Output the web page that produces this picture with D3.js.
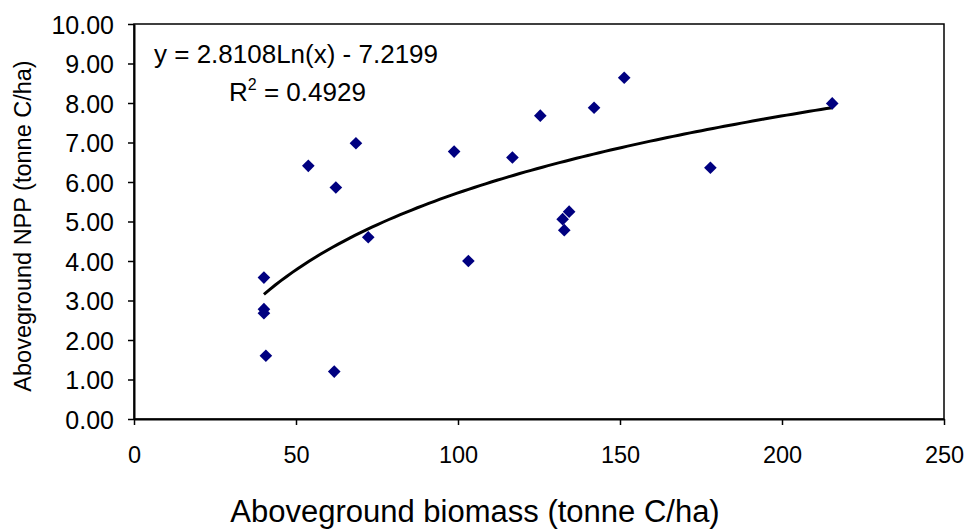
<!DOCTYPE html>
<html><head><meta charset="utf-8">
<script src="https://cdn.jsdelivr.net/npm/d3@7"></script>
<style>body{margin:0;background:#fff}svg{display:block}text{font-family:"Liberation Sans",Arial,sans-serif;fill:#000}</style>
</head><body><svg id="c" width="971" height="532"></svg>
<script>
const biomass = [40.1, 40.1, 40.1, 40.7, 53.8, 61.8, 62.3, 68.5, 72.3, 98.8, 103.2, 116.8, 125.4, 132.3, 132.8, 134.3, 142.0, 151.3, 177.9, 215.5];
const npp     = [3.58, 2.78, 2.68, 1.60, 6.41, 1.20, 5.86, 6.98, 4.60, 6.77, 4.00, 6.62, 7.68, 5.06, 4.78, 5.25, 7.88, 8.64, 6.36, 7.99];
const xTicks = [0, 50, 100, 150, 200, 250];
const yTicks = [0, 1, 2, 3, 4, 5, 6, 7, 8, 9, 10];
const trendA = 2.8108, trendB = -7.2199;
const eqText = "y = 2.8108Ln(x) - 7.2199";
const r2Value = "0.4929";

const svg = d3.select("#c");
const L = 134, R = 944, T = 24, B = 419;
const x = d3.scaleLinear().domain([0, 250]).range([L, R]);
const y = d3.scaleLinear().domain([0, 10]).range([B, T]);

// frame
svg.append("rect").attr("x", L).attr("y", T).attr("width", R - L).attr("height", B - T)
  .attr("fill", "none").attr("stroke", "#000").attr("stroke-width", 1.5);

const xa = svg.append("g").attr("transform", `translate(0,${B})`)
  .call(d3.axisBottom(x).tickValues(xTicks).tickFormat(d3.format("d")).tickSize(6).tickSizeOuter(0));
xa.select(".domain").attr("stroke-width", 2);
xa.selectAll("line").attr("stroke-width", 1.5);
xa.selectAll("text").attr("font-size", 23.5).attr("dy", 0).attr("y", 44).attr("fill", "#000");

const ya = svg.append("g").attr("transform", `translate(${L},0)`)
  .call(d3.axisLeft(y).tickValues(yTicks).tickFormat(d3.format(".2f")).tickSize(6).tickSizeOuter(0));
ya.select(".domain").attr("stroke-width", 2);
ya.selectAll("line").attr("stroke-width", 1.5);
ya.selectAll("text").attr("font-size", 25).attr("x", -20).attr("dy", "0.36em").attr("fill", "#000");

// trend line
const xmin = d3.min(biomass), xmax = d3.max(biomass);
const tr = d3.range(0, 101).map(i => xmin + (xmax - xmin) * i / 100);
svg.append("path").datum(tr)
  .attr("d", d3.line().x(d => x(d)).y(d => y(trendA * Math.log(d) + trendB)))
  .attr("fill", "none").attr("stroke", "#000").attr("stroke-width", 3);

// points
const sym = d3.symbol().type(d3.symbolSquare).size(80);
svg.append("g").selectAll("path").data(biomass.map((b, i) => [b, npp[i]])).join("path")
  .attr("d", sym)
  .attr("transform", d => `translate(${x(d[0])},${y(d[1])}) rotate(45)`)
  .attr("fill", "#000080");

// equation
svg.append("text").attr("x", 154).attr("y", 63).attr("font-size", 26).text(eqText);
const r2 = svg.append("text").attr("x", 229).attr("y", 101).attr("font-size", 26);
r2.append("tspan").text("R");
r2.append("tspan").attr("font-size", 16).attr("dy", -11).text("2");
r2.append("tspan").attr("dy", 11).text(" = " + r2Value);

// axis titles
svg.append("text").attr("x", 475).attr("y", 522).attr("text-anchor", "middle").attr("font-size", 31)
  .text("Aboveground biomass (tonne C/ha)");
svg.append("text").attr("transform", "translate(31,226) rotate(-90)").attr("text-anchor", "middle")
  .attr("font-size", 23.5).text("Aboveground NPP (tonne C/ha)");
</script></body></html>
